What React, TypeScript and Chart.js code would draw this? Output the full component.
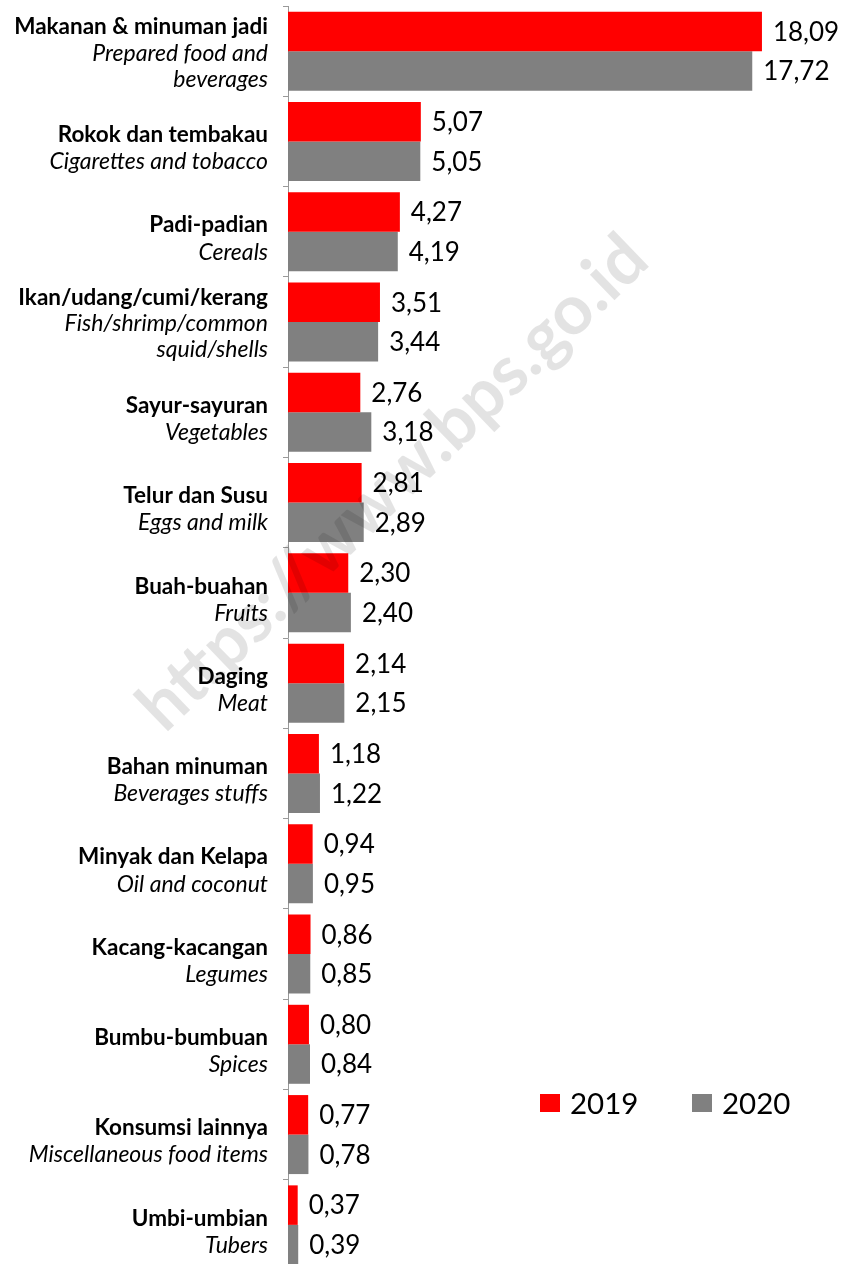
import React, { useEffect, useRef } from "react";
import { Chart, registerables } from "chart.js";

Chart.register(...registerables);

const categoriesId = [
  "Makanan & minuman jadi",
  "Rokok dan tembakau",
  "Padi-padian",
  "Ikan/udang/cumi/kerang",
  "Sayur-sayuran",
  "Telur dan Susu",
  "Buah-buahan",
  "Daging",
  "Bahan minuman",
  "Minyak dan Kelapa",
  "Kacang-kacangan",
  "Bumbu-bumbuan",
  "Konsumsi lainnya",
  "Umbi-umbian",
];

const categoriesEn = [
  ["Prepared food and", "beverages"],
  ["Cigarettes and tobacco"],
  ["Cereals"],
  ["Fish/shrimp/common", "squid/shells"],
  ["Vegetables"],
  ["Eggs and milk"],
  ["Fruits"],
  ["Meat"],
  ["Beverages stuffs"],
  ["Oil and coconut"],
  ["Legumes"],
  ["Spices"],
  ["Miscellaneous food items"],
  ["Tubers"],
];

const series2019 = [18.09, 5.07, 4.27, 3.51, 2.76, 2.81, 2.3, 2.14, 1.18, 0.94, 0.86, 0.8, 0.77, 0.37];
const series2020 = [17.72, 5.05, 4.19, 3.44, 3.18, 2.89, 2.4, 2.15, 1.22, 0.95, 0.85, 0.84, 0.78, 0.39];

const seriesNames = ["2019", "2020"];
const seriesColors = ["#FF0000", "#808080"];
const watermarkText = "https://www.bps.go.id";

const fmt = (v: number) => v.toFixed(2).replace(".", ",");

export default function App() {
  const ref = useRef<HTMLCanvasElement>(null);

  useEffect(() => {
    if (!ref.current) return;

    const overlay = {
      id: "overlay",
      afterDatasetsDraw(chart: any) {
        const ctx = chart.ctx as CanvasRenderingContext2D;

        // watermark
        ctx.save();
        ctx.translate(393, 483);
        ctx.rotate((-44 * Math.PI) / 180);
        ctx.font = "bold 69px Lato";
        ctx.fillStyle = "rgba(0,0,0,0.11)";
        ctx.textAlign = "center";
        ctx.textBaseline = "middle";
        ctx.fillText(watermarkText, 0, 0);
        ctx.restore();

        // value labels
        ctx.save();
        ctx.font = "26px Lato";
        ctx.fillStyle = "#000";
        ctx.textAlign = "left";
        ctx.textBaseline = "middle";
        chart.data.datasets.forEach((ds: any, di: number) => {
          const meta = chart.getDatasetMeta(di);
          meta.data.forEach((bar: any, i: number) => {
            ctx.fillText(fmt(ds.data[i]), bar.x + 11, bar.y + 1);
          });
        });
        ctx.restore();

        // category labels
        const yScale = chart.scales.y;
        ctx.save();
        ctx.fillStyle = "#000";
        ctx.textAlign = "right";
        ctx.textBaseline = "middle";
        categoriesId.forEach((c, i) => {
          const cy = yScale.getPixelForValue(i);
          const lines = [c, ...categoriesEn[i]];
          const lh = lines.length === 3 ? 26 : 27;
          const off = lines.length === 3 ? 2 : 7;
          const start = cy + off - ((lines.length - 1) * lh) / 2;
          lines.forEach((t, li) => {
            ctx.font = li === 0 ? "bold 22.5px Lato" : "italic 23px Lato";
            ctx.fillText(t, 268, start + li * lh);
          });
        });
        ctx.restore();

        // legend
        ctx.save();
        ctx.font = "29.5px Lato";
        ctx.textAlign = "left";
        ctx.textBaseline = "middle";
        const legendX = [540, 692];
        seriesNames.forEach((n, i) => {
          ctx.fillStyle = seriesColors[i];
          ctx.fillRect(legendX[i], 1094, 20, 18);
          ctx.fillStyle = "#000";
          ctx.fillText(n, legendX[i] + 30, 1104);
        });
        ctx.restore();
      },
    };

    const chart = new Chart(ref.current, {
      type: "bar",
      data: {
        labels: categoriesId,
        datasets: [
          {
            label: seriesNames[0],
            data: series2019,
            backgroundColor: seriesColors[0],
            categoryPercentage: 0.875,
            barPercentage: 1,
          },
          {
            label: seriesNames[1],
            data: series2020,
            backgroundColor: seriesColors[1],
            categoryPercentage: 0.875,
            barPercentage: 1,
          },
        ],
      },
      options: {
        indexAxis: "y",
        responsive: false,
        animation: false,
        layout: { padding: { top: 6, bottom: 6, left: 0, right: 36 } },
        plugins: { legend: { display: false }, tooltip: { enabled: false } },
        scales: {
          x: { display: false, min: 0, max: 20 },
          y: {
            ticks: { display: false },
            grid: {
              offset: true,
              drawOnChartArea: false,
              drawTicks: true,
              tickLength: 5,
              color: "#999",
            },
            border: { display: true, color: "#999" },
            afterFit: (scale: any) => {
              scale.width = 288;
            },
          },
        },
      },
      plugins: [overlay],
    });

    return () => chart.destroy();
  }, []);

  return (
    <div
      style={{
        position: "absolute",
        left: 0,
        top: 0,
        width: 848,
        height: 1264,
        overflow: "hidden",
        background: "#fff",
      }}
    >
      <canvas ref={ref} width={848} height={1276} style={{ display: "block" }} />
    </div>
  );
}
